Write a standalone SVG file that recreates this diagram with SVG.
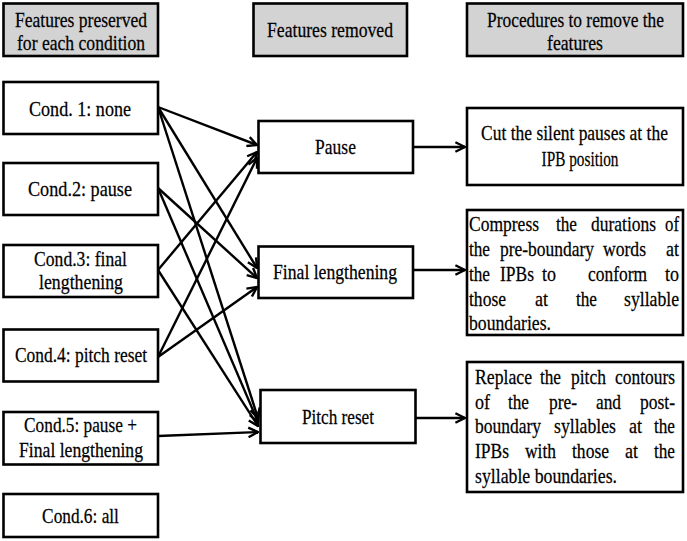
<svg xmlns="http://www.w3.org/2000/svg" width="687" height="541" viewBox="0 0 687 541">
<defs>
<style>
.box{fill:#fff;stroke:#000;stroke-width:2.6}
.hdr{fill:#d3d3d3;stroke:#000;stroke-width:2.6}
text{font-family:"Liberation Serif","Times New Roman",serif;font-size:22px;fill:#000;stroke:#000;stroke-width:0.25}
.c{text-anchor:middle}
.cn line{stroke:#000;stroke-width:2.4;fill:none;marker-end:url(#ah)}
</style>
<marker id="ah" viewBox="0 0 10 10" refX="9" refY="5" markerWidth="5" markerHeight="5" markerUnits="strokeWidth" orient="auto">
<path d="M1,1 L9,5 L1,9" fill="none" stroke="#000" stroke-width="2"/>
</marker>
</defs>
<rect width="687" height="541" fill="#fff"/>

<g id="h1"><rect class="hdr" x="3.5" y="3.5" width="154.5" height="52.5"/>
<text class="c" transform="matrix(.8 0 0 1 81 27)" textLength="165" lengthAdjust="spacingAndGlyphs">Features preserved</text>
<text class="c" transform="matrix(.8 0 0 1 81 50)" textLength="160" lengthAdjust="spacingAndGlyphs">for each condition</text></g>
<g id="h2"><rect class="hdr" x="253.5" y="3.5" width="153.5" height="52.5"/>
<text class="c" transform="matrix(.8 0 0 1 330 37)" textLength="157.5" lengthAdjust="spacingAndGlyphs">Features removed</text></g>
<g id="h3"><rect class="hdr" x="467" y="3.5" width="216" height="52.5"/>
<text class="c" transform="matrix(.8 0 0 1 575.5 27)" textLength="221" lengthAdjust="spacingAndGlyphs">Procedures to remove the</text>
<text class="c" transform="matrix(.8 0 0 1 575 50)" textLength="70" lengthAdjust="spacingAndGlyphs">features</text></g>

<g id="cond1"><rect class="box" x="3.5" y="82" width="154.5" height="52"/>
<text class="c" transform="matrix(.8 0 0 1 80 116)" textLength="127.5" lengthAdjust="spacingAndGlyphs">Cond. 1:  none</text></g>
<g id="cond2"><rect class="box" x="3.5" y="163" width="154.5" height="52"/>
<text class="c" transform="matrix(.8 0 0 1 80 196)" textLength="130" lengthAdjust="spacingAndGlyphs">Cond.2:  pause</text></g>
<g id="cond3"><rect class="box" x="3.5" y="245" width="154.5" height="52"/>
<text class="c" transform="matrix(.8 0 0 1 80.5 266)" textLength="116" lengthAdjust="spacingAndGlyphs">Cond.3: final</text>
<text class="c" transform="matrix(.8 0 0 1 81 289)" textLength="105" lengthAdjust="spacingAndGlyphs">lengthening</text></g>
<g id="cond4"><rect class="box" x="3.5" y="329.5" width="154.5" height="52"/>
<text class="c" transform="matrix(.8 0 0 1 81 362)" textLength="165" lengthAdjust="spacingAndGlyphs">Cond.4: pitch reset</text></g>
<g id="cond5"><rect class="box" x="3.5" y="412" width="154.5" height="52.5"/>
<text class="c" transform="matrix(.8 0 0 1 80.5 432)" textLength="141" lengthAdjust="spacingAndGlyphs">Cond.5: pause +</text>
<text class="c" transform="matrix(.8 0 0 1 81 457)" textLength="155" lengthAdjust="spacingAndGlyphs">Final lengthening</text></g>
<g id="cond6"><rect class="box" x="3.5" y="494" width="154.5" height="43"/>
<text class="c" transform="matrix(.8 0 0 1 80.5 523)" textLength="96" lengthAdjust="spacingAndGlyphs">Cond.6: all</text></g>

<g id="pause"><rect class="box" x="258.5" y="121" width="154.5" height="52"/>
<text class="c" transform="matrix(.8 0 0 1 335.5 154)" textLength="51" lengthAdjust="spacingAndGlyphs">Pause</text></g>
<g id="final"><rect class="box" x="258.5" y="246.5" width="154.5" height="51.5"/>
<text class="c" transform="matrix(.8 0 0 1 335 279)" textLength="155" lengthAdjust="spacingAndGlyphs">Final lengthening</text></g>
<g id="pitch"><rect class="box" x="260.5" y="390" width="155" height="53"/>
<text class="c" transform="matrix(.8 0 0 1 338 424)" textLength="90" lengthAdjust="spacingAndGlyphs">Pitch reset</text></g>

<g id="proc1"><rect class="box" x="467" y="108" width="216" height="77"/>
<text class="c" transform="matrix(.8 0 0 1 574.5 140)" textLength="233.5" lengthAdjust="spacingAndGlyphs">Cut the silent pauses at the</text>
<text class="c" transform="matrix(.8 0 0 1 580 166)" textLength="96" lengthAdjust="spacingAndGlyphs">IPB position</text></g>

<g id="proc2"><rect class="box" x="467" y="210" width="216" height="125"/>
<text transform="matrix(.8 0 0 1 469 231)" textLength="87.5" lengthAdjust="spacingAndGlyphs">Compress</text>
<text transform="matrix(.8 0 0 1 556 231)" textLength="26.25" lengthAdjust="spacingAndGlyphs">the</text>
<text transform="matrix(.8 0 0 1 591 231)" textLength="81.25" lengthAdjust="spacingAndGlyphs">durations</text>
<text transform="matrix(.8 0 0 1 665 231)" textLength="17.5" lengthAdjust="spacingAndGlyphs">of</text>
<text transform="matrix(.8 0 0 1 469 256)" textLength="26.25" lengthAdjust="spacingAndGlyphs">the</text>
<text transform="matrix(.8 0 0 1 500 256)" textLength="117.5" lengthAdjust="spacingAndGlyphs">pre-boundary</text>
<text transform="matrix(.8 0 0 1 603 256)" textLength="53.75" lengthAdjust="spacingAndGlyphs">words</text>
<text transform="matrix(.8 0 0 1 666 256)" textLength="16.25" lengthAdjust="spacingAndGlyphs">at</text>
<text transform="matrix(.8 0 0 1 469 281)" textLength="26.25" lengthAdjust="spacingAndGlyphs">the</text>
<text transform="matrix(.8 0 0 1 500 281)" textLength="42.5" lengthAdjust="spacingAndGlyphs">IPBs</text>
<text transform="matrix(.8 0 0 1 542 281)" textLength="17.5" lengthAdjust="spacingAndGlyphs">to</text>
<text transform="matrix(.8 0 0 1 588 281)" textLength="73.75" lengthAdjust="spacingAndGlyphs">conform</text>
<text transform="matrix(.8 0 0 1 665 281)" textLength="17.5" lengthAdjust="spacingAndGlyphs">to</text>
<text transform="matrix(.8 0 0 1 469 306)" textLength="46.25" lengthAdjust="spacingAndGlyphs">those</text>
<text transform="matrix(.8 0 0 1 535 306)" textLength="16.25" lengthAdjust="spacingAndGlyphs">at</text>
<text transform="matrix(.8 0 0 1 576 306)" textLength="26.25" lengthAdjust="spacingAndGlyphs">the</text>
<text transform="matrix(.8 0 0 1 624 306)" textLength="68.75" lengthAdjust="spacingAndGlyphs">syllable</text>
<text transform="matrix(.8 0 0 1 469 330)" textLength="102.5" lengthAdjust="spacingAndGlyphs">boundaries.</text></g>

<g id="proc3"><rect class="box" x="467" y="362" width="216" height="130"/>
<text transform="matrix(.8 0 0 1 475 384)" textLength="71.25" lengthAdjust="spacingAndGlyphs">Replace</text>
<text transform="matrix(.8 0 0 1 540 384)" textLength="26.25" lengthAdjust="spacingAndGlyphs">the</text>
<text transform="matrix(.8 0 0 1 571 384)" textLength="43.75" lengthAdjust="spacingAndGlyphs">pitch</text>
<text transform="matrix(.8 0 0 1 615 384)" textLength="75" lengthAdjust="spacingAndGlyphs">contours</text>
<text transform="matrix(.8 0 0 1 475 409)" textLength="18.75" lengthAdjust="spacingAndGlyphs">of</text>
<text transform="matrix(.8 0 0 1 508 409)" textLength="26.25" lengthAdjust="spacingAndGlyphs">the</text>
<text transform="matrix(.8 0 0 1 549 409)" textLength="35" lengthAdjust="spacingAndGlyphs">pre-</text>
<text transform="matrix(.8 0 0 1 596 409)" textLength="31.25" lengthAdjust="spacingAndGlyphs">and</text>
<text transform="matrix(.8 0 0 1 640 409)" textLength="43.75" lengthAdjust="spacingAndGlyphs">post-</text>
<text transform="matrix(.8 0 0 1 475 433)" textLength="82.5" lengthAdjust="spacingAndGlyphs">boundary</text>
<text transform="matrix(.8 0 0 1 554 433)" textLength="77.5" lengthAdjust="spacingAndGlyphs">syllables</text>
<text transform="matrix(.8 0 0 1 629 433)" textLength="16.25" lengthAdjust="spacingAndGlyphs">at</text>
<text transform="matrix(.8 0 0 1 654 433)" textLength="26.25" lengthAdjust="spacingAndGlyphs">the</text>
<text transform="matrix(.8 0 0 1 475 458)" textLength="42.5" lengthAdjust="spacingAndGlyphs">IPBs</text>
<text transform="matrix(.8 0 0 1 525 458)" textLength="38.75" lengthAdjust="spacingAndGlyphs">with</text>
<text transform="matrix(.8 0 0 1 572 458)" textLength="46.25" lengthAdjust="spacingAndGlyphs">those</text>
<text transform="matrix(.8 0 0 1 625 458)" textLength="16.25" lengthAdjust="spacingAndGlyphs">at</text>
<text transform="matrix(.8 0 0 1 654 458)" textLength="26.25" lengthAdjust="spacingAndGlyphs">the</text>
<text transform="matrix(.8 0 0 1 475 483)" textLength="177.5" lengthAdjust="spacingAndGlyphs">syllable boundaries.</text></g>

<g id="connectors" class="cn">
<line x1="158" y1="107" x2="257" y2="145"/>
<line x1="158" y1="107" x2="257" y2="268"/>
<line x1="158" y1="107" x2="258" y2="418"/>
<line x1="158" y1="188" x2="257" y2="278"/>
<line x1="158" y1="188" x2="258" y2="422"/>
<line x1="158" y1="270" x2="257" y2="152"/>
<line x1="158" y1="270" x2="258" y2="426"/>
<line x1="158" y1="357" x2="257" y2="158"/>
<line x1="158" y1="357" x2="257" y2="287"/>
<line x1="158" y1="436" x2="258" y2="432"/>
<line x1="413" y1="147" x2="465" y2="147"/>
<line x1="413" y1="270" x2="465" y2="270"/>
<line x1="415.5" y1="418" x2="465" y2="418"/>
</g>
</svg>
